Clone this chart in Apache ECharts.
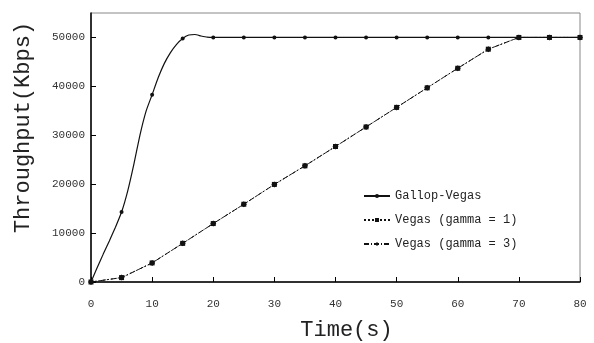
<!DOCTYPE html>
<html><head><meta charset="utf-8">
<script src="https://cdn.jsdelivr.net/npm/echarts@6/dist/echarts.min.js"></script>
<style>html,body{margin:0;padding:0;background:#fff}#c{width:594px;height:343px}</style>
</head><body><div id="c"></div>
<script>
const gallopT = [0,1,2,3,4,5,6,7,8,9,10,11,12,13,14,15,16,17,18,19,20,25,30,35,40,45,50,55,60,65,70,75,80];
const gallopY = [0,2900,5700,8400,11200,14300,18600,24000,30000,34900,38300,41800,44700,46900,48600,49800,50500,50600,50300,50050,50000,50000,50000,50000,50000,50000,50000,50000,50000,50000,50000,50000,50000];
const vegasT = [0,5,10,15,20,25,30,35,40,45,50,55,60,65,70,75,80];
const vegas1Y = [0,900,3900,7900,11950,15900,19950,23750,27700,31700,35700,39700,43700,47600,50000,50000,50000];
const vegas3Y = [0,900,3900,7900,11950,15900,19950,23750,27700,31700,35700,39700,43700,47600,50000,50000,50000];
const xTicks = [0,10,20,30,40,50,60,70,80];
const yTicks = [0,10000,20000,30000,40000,50000];
const seriesNames = ['Gallop-Vegas','Vegas (gamma = 1)','Vegas (gamma = 3)'];

const mono = 'Liberation Mono';
const gallopData = gallopT.map((t,i)=>({value:[t,gallopY[i]], symbol: (t%5===0)?'circle':'none'}));
const v1 = vegasT.map((t,i)=>[t,vegas1Y[i]]);
const v3 = vegasT.map((t,i)=>[t,vegas3Y[i]]);

const chart = echarts.init(document.getElementById('c'), null, {renderer:'canvas'});
chart.setOption({
  animation:false,
  backgroundColor:'#fff',
  grid:{left:91,right:14,top:13,bottom:61,show:true,borderColor:'#888',borderWidth:1,outerBoundsMode:'none',containLabel:false},
  legend:{
    orient:'vertical', left:363, top:190, padding:0, itemGap:12, itemWidth:26, itemHeight:5,
    data:seriesNames,
    textStyle:{fontFamily:mono,fontSize:12,color:'#222'}
  },
  xAxis:{
    type:'value',min:0,max:80,interval:10,
    name:'Time(s)',nameLocation:'middle',nameGap:37,
    nameTextStyle:{fontFamily:mono,fontSize:22,color:'#222',padding:[0,0,0,22]},
    axisLine:{lineStyle:{color:'#000',width:1.5}},
    axisTick:{inside:true,length:5,lineStyle:{color:'#000'}},
    axisLabel:{fontFamily:mono,fontSize:11,color:'#333',margin:17,formatter:v=>String(v)},
    splitLine:{show:false}
  },
  yAxis:{
    type:'value',min:0,max:55000,interval:10000,
    name:'Throughput(Kbps)',nameLocation:'middle',nameGap:57,
    nameTextStyle:{fontFamily:mono,fontSize:22,color:'#222',padding:[0,0,0,40]},
    axisLine:{show:true,lineStyle:{color:'#000',width:1.5}},
    axisTick:{show:true,inside:true,length:5,lineStyle:{color:'#000'}},
    axisLabel:{fontFamily:mono,fontSize:11,color:'#333',margin:6,showMaxLabel:false,formatter:v=>String(v)},
    splitLine:{show:false}
  },
  series:[
    {name:seriesNames[0],type:'line',data:gallopData,smooth:0.15,symbol:'circle',symbolSize:4,
     lineStyle:{color:'#111',width:1.2},itemStyle:{color:'#111'},z:3},
    {name:seriesNames[1],type:'line',data:v1,symbol:'rect',symbolSize:5,
     lineStyle:{color:'#111',width:1,type:[2,2]},itemStyle:{color:'#111'}},
    {name:seriesNames[2],type:'line',data:v3,symbol:'diamond',symbolSize:6,
     lineStyle:{color:'#111',width:1,type:[5,2,1,2]},itemStyle:{color:'#111'}}
  ]
});
</script></body></html>
